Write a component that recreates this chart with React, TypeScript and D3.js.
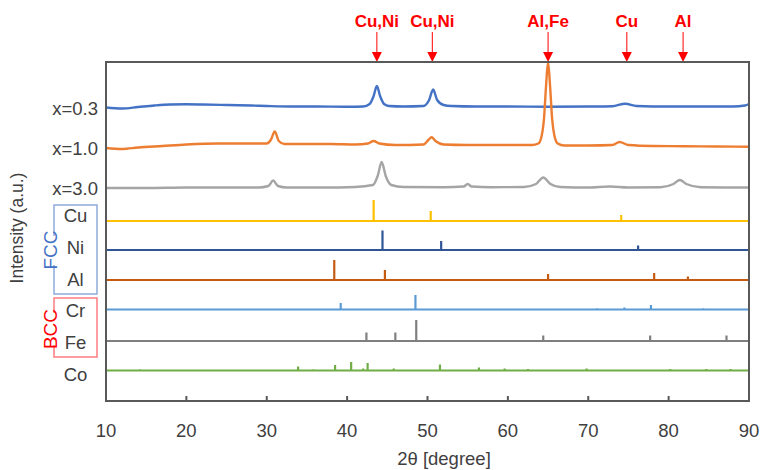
import * as d3 from 'd3';

// x axis (2θ) ticks
const xTicks = [10, 20, 30, 40, 50, 60, 70, 80, 90];

// measured patterns: [2θ, intensity above own baseline (a.u.)]
const sampleNames = ['x=0.3', 'x=1.0', 'x=3.0'];
const sampleOffsets = [293, 253, 213];
const sampleColors = ['#4472C4', '#ED7D31', '#A5A5A5'];

const x03: [number, number][] = [
  [10, 0.5], [12, -0.5], [14, 1], [16, 2.5], [18, 3.5], [20, 3.7], [22, 3.5], [25, 3], [28, 2.5],
  [30, 2], [33, 1.5], [36, 1.5], [40, 1.2], [42, 1.5], [42.8, 4], [43.3, 12], [43.7, 22], [44.1, 12],
  [44.6, 4], [45.2, 2], [47, 1.5], [49.5, 2], [50.2, 8], [50.7, 18.5], [51.2, 8], [52, 3], [53, 2],
  [56, 1.5], [60, 1.5], [65, 1.3], [70, 1.5], [73, 1.8], [74.6, 4.3], [76, 2], [80, 1.5], [85, 1.5],
  [88, 1.5], [89.5, 2.5], [90, 4],
];
const x10: [number, number][] = [
  [10, 0], [12, -1], [14, 0.5], [17, 2], [20, 3.5], [24, 4.5], [28, 4.5], [30, 4.5], [30.5, 8],
  [31, 16.5], [31.5, 7], [32.2, 4], [35, 4], [38, 4], [41, 3.5], [42.6, 4.5], [43.3, 7], [44, 4.5],
  [46, 3], [49.5, 3.5], [50.1, 8], [50.5, 10.7], [51, 7], [52, 3.5], [55, 3], [60, 3], [63, 3],
  [63.8, 4.5], [64.2, 12], [64.5, 30], [64.75, 62], [65, 86], [65.25, 62], [65.5, 30], [65.8, 12],
  [66.2, 4.5], [67, 2.5], [70, 2.5], [73, 3], [73.9, 6], [75, 3], [78, 2], [82, 1.8], [86, 1.5],
  [90, 1.3],
];
const x30: [number, number][] = [
  [10, 0], [15, 0], [20, 0.5], [25, 0.5], [29, 0.5], [30.2, 2], [30.8, 7.5], [31.4, 2], [32.5, 0.5],
  [37, 0.5], [41, 1], [43.2, 3], [43.8, 12], [44.3, 26], [44.8, 12], [45.5, 3], [47, 1], [52, 0.8],
  [54.5, 1.5], [55, 4], [55.5, 1.5], [58, 0.8], [62, 1], [63.5, 4], [64.4, 10.5], [65.3, 4],
  [66.5, 1], [70, 0.5], [72.7, 1.5], [75, 0.5], [79, 0.8], [80.6, 4], [81.4, 8], [82.2, 4],
  [84, 0.8], [88, 0.5], [90, 0.5],
];
const samples = [x03, x10, x30];

// reference stick patterns: [2θ, relative intensity]
const refNames = ['Cu', 'Ni', 'Al', 'Cr', 'Fe', 'Co'];
const refOffsets = [180, 151, 121, 91.5, 60, 30.5];
const refColors = ['#FFC000', '#2F5597', '#C55A11', '#5B9BD5', '#7F7F7F', '#70AD47'];
const cuPeaks = [[43.3, 21], [50.4, 10], [74.1, 6]];
const niPeaks = [[44.4, 19.5], [51.7, 9], [76.2, 4.5]];
const alPeaks = [[38.4, 20], [44.7, 10], [65.0, 6], [78.2, 7], [82.4, 3.5]];
const crPeaks = [[39.2, 6.5], [48.5, 14.5], [71.1, 1], [74.5, 2], [77.8, 4.5], [84.3, 1]];
const fePeaks = [[42.4, 8.5], [46.0, 8.5], [48.6, 21], [64.4, 5.5], [77.7, 5.5], [87.2, 5.5]];
const coPeaks = [
  [14.2, 1], [33.9, 4], [35.8, 1], [38.5, 5.5], [40.5, 8.5], [42.0, 2], [42.55, 7.5], [45.8, 2],
  [51.55, 6], [56.4, 3], [59.6, 2], [62.5, 1.5], [69.8, 2], [80.2, 1.5], [84.7, 1.5], [87.7, 1.5],
];
const refPeaks = [cuPeaks, niPeaks, alPeaks, crPeaks, fePeaks, coPeaks];

// peak annotations on top
const annoLabels = ['Cu,Ni', 'Cu,Ni', 'Al,Fe', 'Cu', 'Al'];
const annoPos = [43.7, 50.6, 65.0, 74.8, 81.8];

const NARROW = "'Liberation Sans Narrow', 'Liberation Sans', Arial, sans-serif";
const SANS = "'Liberation Sans', Arial, sans-serif";

export default function App() {
  const width = 760;
  const height = 470;
  const margin = { top: 62, right: 11, bottom: 69, left: 106 };
  const innerW = width - margin.left - margin.right;
  const innerH = height - margin.top - margin.bottom;

  const x = d3.scaleLinear().domain([10, 90]).range([margin.left, margin.left + innerW]);
  const y = d3.scaleLinear().domain([0, innerH]).range([margin.top + innerH, margin.top]);

  const line = (off: number) =>
    d3.line<[number, number]>()
      .x(d => x(d[0]))
      .y(d => y(off + d[1]))
      .curve(d3.curveMonotoneX);

  const labelGap = 31.7;

  return (
    <div style={{ position: 'absolute', left: 0, top: 0 }}>
      <svg width={width} height={height} style={{ display: 'block', background: '#fff' }}>
        {/* annotations */}
        {annoLabels.map((t, i) => {
          const px = x(annoPos[i]);
          return (
            <g key={'a' + i}>
              <text x={px} y={27} textAnchor="middle" fill="#FF0000" fontFamily={SANS}
                fontWeight="bold" fontSize={17}>{t}</text>
              <line x1={px} x2={px} y1={32} y2={53} stroke="#FF0000" strokeWidth={1} />
              <path d={`M${px - 5},52 L${px + 5},52 L${px},${margin.top} Z`} fill="#FF0000" />
            </g>
          );
        })}

        {/* reference sticks */}
        {refNames.map((n, i) => {
          const off = refOffsets[i];
          return (
            <g key={n} stroke={refColors[i]} strokeWidth={2}>
              <line x1={x(10)} x2={x(90)} y1={y(off)} y2={y(off)} />
              {refPeaks[i].map((p, j) => (
                <line key={j} x1={x(p[0])} x2={x(p[0])} y1={y(off)} y2={y(off + p[1])} strokeWidth={2.2} />
              ))}
            </g>
          );
        })}

        {/* measured patterns */}
        {samples.map((s, i) => (
          <path key={sampleNames[i]} d={line(sampleOffsets[i])(s) || ''} fill="none"
            stroke={sampleColors[i]} strokeWidth={2.4} strokeLinejoin="round" />
        ))}

        {/* frame */}
        <rect x={margin.left} y={margin.top} width={innerW} height={innerH} fill="none"
          stroke="#595959" strokeWidth={2} />
        {xTicks.slice(1, -1).map(t => (
          <line key={'t' + t} x1={x(t)} x2={x(t)} y1={margin.top + innerH} y2={margin.top + innerH - 5}
            stroke="#595959" strokeWidth={2} />
        ))}
        {xTicks.map(t => (
          <text key={'l' + t} x={x(t)} y={437} textAnchor="middle" fill="#404040"
            fontFamily={SANS} fontSize={18.5}>{t}</text>
        ))}
        <text x={444} y={465} textAnchor="middle" fill="#404040" fontFamily={SANS} fontSize={18.5}>
          2θ [degree]
        </text>
        <text transform="translate(23,228) rotate(-90)" textAnchor="middle" fill="#404040"
          fontFamily={SANS} fontSize={17.5}>Intensity (a.u.)</text>

        {/* sample labels */}
        {sampleNames.map((n, i) => (
          <text key={n} x={98} y={y(sampleOffsets[i]) + 6.5} textAnchor="end" fill="#404040"
            fontFamily={SANS} fontSize={18.5}>{n}</text>
        ))}

        {/* element labels */}
        {refNames.map((n, i) => (
          <text key={'r' + n} x={75.5} y={222.3 + i * labelGap} textAnchor="middle" fill="#404040"
            fontFamily={NARROW} fontSize={18.5}>{n}</text>
        ))}

        {/* FCC / BCC brackets */}
        <path d="M54,236 V205 H97 V294 H54 V265" fill="none" stroke="#8FAADC" strokeWidth={1.5} />
        <text transform="translate(57,250) rotate(-90)" textAnchor="middle" fill="#4472C4"
          fontFamily={NARROW} fontSize={19}>FCC</text>
        <path d="M54,313 V298 H97 V357 H54 V345" fill="none" stroke="#FF7C80" strokeWidth={1.5} />
        <text transform="translate(57,329) rotate(-90)" textAnchor="middle" fill="#FF0000"
          fontFamily={NARROW} fontSize={19}>BCC</text>
      </svg>
    </div>
  );
}
